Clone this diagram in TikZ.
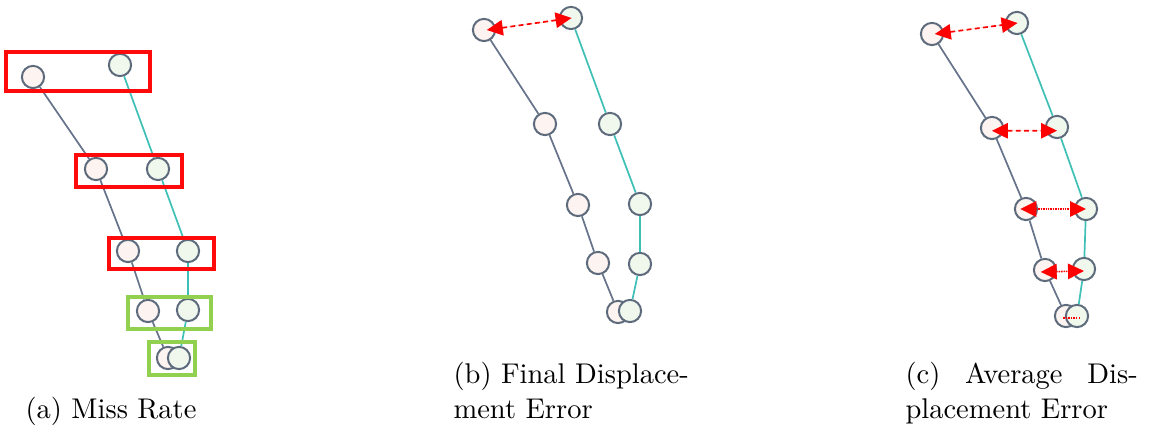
\documentclass[tikz,border=0pt]{standalone}
\usetikzlibrary{arrows.meta}
\definecolor{pinkfill}{HTML}{FDF3F0}
\definecolor{greenfill}{HTML}{F0F8EE}
\definecolor{nodeline}{HTML}{5D6B7C}
\definecolor{pinkline}{HTML}{66738A}
\definecolor{tealline}{HTML}{3FC0B6}
\definecolor{boxred}{HTML}{FF0A0A}
\definecolor{boxgreen}{HTML}{92D050}
\begin{document}
\begin{tikzpicture}[x=0.3509pt,y=-0.3509pt,
  pnode/.style={circle,draw=nodeline,fill=pinkfill,line width=0.7pt,minimum size=7.8pt,inner sep=0pt},
  gnode/.style={circle,draw=nodeline,fill=greenfill,line width=0.7pt,minimum size=7.8pt,inner sep=0pt},
  plink/.style={draw=pinkline,line width=0.6pt},
  glink/.style={draw=tealline,line width=0.6pt},
  redbox/.style={draw=boxred,line width=1.15pt},
  greenbox/.style={draw=boxgreen,line width=1.15pt},
  dispdash/.style={draw=red,line width=0.6pt,dash pattern=on 1.7pt off 1.2pt,{Triangle[length=5.6pt,width=5.4pt]}-{Triangle[length=5.6pt,width=5.4pt]},fill=red},
  dispdot/.style={draw=red,line width=0.55pt,dash pattern=on 0.5pt off 0.35pt,{Triangle[length=5.6pt,width=5.4pt]}-{Triangle[length=5.6pt,width=5.4pt]},fill=red},
  captext/.style={anchor=base west,inner sep=0pt,font=\fontsize{10pt}{12pt}\selectfont}
]
\useasboundingbox (0,0) rectangle (1149,434);

% ---------- (a) ----------
\node[pnode] (ap1) at (33,77) {};
\node[gnode] (ag1) at (120,65) {};
\node[pnode] (ap2) at (96,169) {};
\node[gnode] (ag2) at (158,169) {};
\node[pnode] (ap3) at (128,251) {};
\node[gnode] (ag3) at (188,251) {};
\node[pnode] (ap4) at (148,311) {};
\node[gnode] (ag4) at (188,310) {};
\node[pnode] (ap5) at (168,358) {};
\node[gnode] (ag5) at (179,358) {};
\path[plink] (ap1) -- (ap2) (ap2) -- (ap3) (ap3) -- (ap4) (ap4) -- (ap5);
\path[glink] (ag1) -- (ag2) (ag2) -- (ag3) (ag3) -- (ag4) (ag4) -- (ag5);
\draw[redbox] (6,52) rectangle (150,91);
\draw[redbox] (76,155) rectangle (182,187);
\draw[redbox] (109,238) rectangle (214,269);
\draw[greenbox] (128,297) rectangle (211,329);
\draw[greenbox] (149,342) rectangle (195,375);

% ---------- (b) ----------
\node[pnode] (bp1) at (484,30) {};
\node[gnode] (bg1) at (571,18) {};
\node[pnode] (bp2) at (545,124) {};
\node[gnode] (bg2) at (610,124) {};
\node[pnode] (bp3) at (578,205) {};
\node[gnode] (bg3) at (640,204) {};
\node[pnode] (bp4) at (598,263) {};
\node[gnode] (bg4) at (640,264) {};
\node[pnode] (bp5) at (618,312) {};
\node[gnode] (bg5) at (630,311) {};
\path[plink] (bp1) -- (bp2) (bp2) -- (bp3) (bp3) -- (bp4) (bp4) -- (bp5);
\path[glink] (bg1) -- (bg2) (bg2) -- (bg3) (bg3) -- (bg4) (bg4) -- (bg5);
\draw[dispdash] ([xshift=1pt]bp1.center) -- ([xshift=0.2pt]bg1.center);

% ---------- (c) ----------
\node[pnode] (cp1) at (932,34) {};
\node[gnode] (cg1) at (1017,23) {};
\node[pnode] (cp2) at (992,128) {};
\node[gnode] (cg2) at (1057,127) {};
\node[pnode] (cp3) at (1026,209) {};
\node[gnode] (cg3) at (1086,209) {};
\node[pnode] (cp4) at (1045,270) {};
\node[gnode] (cg4) at (1084,269) {};
\node[pnode] (cp5) at (1066,316) {};
\node[gnode] (cg5) at (1077,316) {};
\path[plink] (cp1) -- (cp2) (cp2) -- (cp3) (cp3) -- (cp4) (cp4) -- (cp5);
\path[glink] (cg1) -- (cg2) (cg2) -- (cg3) (cg3) -- (cg4) (cg4) -- (cg5);
\draw[dispdash] ([xshift=1pt]cp1.center) -- ([xshift=0.2pt]cg1.center);
\draw[dispdash] ([yshift=-1pt]cp2.center) -- ([yshift=-1.3pt]cg2.center);
\draw[dispdot] ([xshift=-2pt]cp3.center) -- (cg3.center);
\draw[dispdot] ([xshift=-1.5pt,yshift=-0.7pt]cp4.center) -- ([yshift=-0.7pt]cg4.center);
\draw[draw=red,line width=0.4pt,dash pattern=on 0.5pt off 0.4pt] ([xshift=-1pt,yshift=-0.7pt]cp5.center) -- ([xshift=1pt,yshift=-0.7pt]cg5.center);

% ---------- captions ----------
\node[captext] (capa) at (25,419) {(a) Miss Rate};
\node[captext] (capb1) at (453,384) {(b) Final Displace-};
\node[captext] (capb2) at (453,419) {ment Error};
\node[captext] (capc1) at (905,384) {\makebox[81.5pt][s]{(c) Average Dis-}};
\node[captext] (capc2) at (905,419) {placement Error};
\end{tikzpicture}
\end{document}
